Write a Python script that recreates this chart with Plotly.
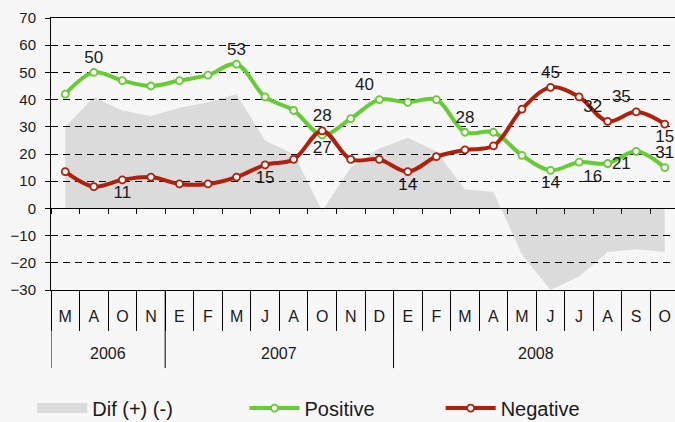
import plotly.graph_objects as go

# categories (month initials, Spanish) and their years
months = ["M", "A", "O", "N",
          "E", "F", "M", "J", "A", "O", "N", "D",
          "E", "F", "M", "A", "M", "J", "J", "A", "S", "O"]
years = ["2006"] * 4 + ["2007"] * 8 + ["2008"] * 10

# series values
positive = [42, 50, 47, 45, 47, 49, 53, 41, 36, 27, 33, 40,
            39, 40, 28, 28, 19.5, 14, 17, 16.5, 21, 15]
negative = [13.5, 8, 10.5, 11.5, 9, 9, 11.5, 16, 18, 28.5, 18, 18,
            13.5, 19, 21.5, 23, 36.5, 44.5, 41, 32, 35.5, 31]
dif = [30, 41, 36, 34, 37, 39, 42, 25, 20, -1, 15, 22,
       26, 21, 7, 6, -17, -30, -25, -16, -15, -16]

# data labels as printed on the chart
pos_labels = {1: "50", 6: "53", 9: "27", 11: "40", 14: "28", 17: "14", 19: "16", 20: "21", 21: "31"}
neg_labels = {2: "11", 7: "15", 9: "28", 12: "14", 17: "45", 19: "32", 20: "35", 21: "15"}
pos_where = {11: "top left", 9: "bottom center", 17: "bottom center", 19: "bottom left", 20: "bottom left"}
neg_where = {2: "bottom center", 7: "bottom center", 12: "bottom center", 19: "top left", 20: "top left", 21: "bottom center"}

keys = [y + "-" + str(i) for i, y in enumerate(years)]
n = len(keys)

GREEN = "#66CC33"
RED = "#B0200C"
BG = "#F7F7F7"
FONT = "Liberation Sans, Arial, sans-serif"
NB = "\u00a0"

pos_text = [pos_labels.get(i, "") for i in range(n)]
neg_text = [neg_labels.get(i, "") for i in range(n)]
pos_tp = [pos_where.get(i, "top center") for i in range(n)]
neg_tp = [neg_where.get(i, "top center") for i in range(n)]

difTrace = go.Scatter(
    x=keys, y=dif, mode="none", fill="tozeroy",
    fillcolor="rgba(0,0,0,0.11)", showlegend=False,
    hoverinfo="skip"
)

# legend swatch for the difference area (nothing drawn in the plot)
difLegend = go.Scatter(
    x=[keys[0]], y=[None], mode="lines", name="Dif (+) (-)" + NB * 12,
    line=dict(color="#DCDCDC", width=15), hoverinfo="skip"
)

posTrace = go.Scatter(
    x=keys, y=positive, mode="lines+markers+text", name="Positive" + NB * 11,
    line=dict(color=GREEN, width=4, shape="spline"),
    marker=dict(size=7, color="white", line=dict(color=GREEN, width=1.8)),
    text=pos_text, textposition=pos_tp,
    textfont=dict(size=17, color="#1a1a1a", family=FONT)
)

negTrace = go.Scatter(
    x=keys, y=negative, mode="lines+markers+text", name="Negative",
    line=dict(color=RED, width=4, shape="spline"),
    marker=dict(size=7, color="white", line=dict(color=RED, width=1.8)),
    text=neg_text, textposition=neg_tp,
    textfont=dict(size=17, color="#1a1a1a", family=FONT)
)

# invisible helper for the tick marks along the zero line
zeroTicks = go.Scatter(x=[0], y=[0], xaxis="x2", mode="markers",
                       marker=dict(opacity=0), showlegend=False, hoverinfo="skip")

# year group dividers and labels under the month row
starts = [i for i in range(n) if i == 0 or years[i] != years[i - 1]]
shapes = []
annotations = []
for s in starts:
    shapes.append(dict(type="line", xref="x", yref="paper", x0=s - 0.5, x1=s - 0.5,
                       y0=0, y1=-0.287, line=dict(color="black", width=1)))
for s in starts:
    grp = [i for i in range(n) if years[i] == years[s]]
    annotations.append(dict(xref="x", yref="paper", x=(grp[0] + grp[-1]) / 2.0, y=-0.235,
                            text=years[s], showarrow=False, yanchor="middle",
                            font=dict(size=16, color="#1a1a1a", family=FONT)))

layout = go.Layout(
    width=675, height=422,
    margin=dict(l=51, r=0, t=18, b=132, autoexpand=False),
    paper_bgcolor=BG, plot_bgcolor=BG,
    font=dict(family=FONT, color="#1a1a1a"),
    showlegend=True,
    legend=dict(orientation="h", x=-0.03, y=-0.434, yanchor="middle", xanchor="left",
                itemwidth=50,
                font=dict(size=20, family=FONT, color="#1a1a1a"),
                bgcolor="rgba(0,0,0,0)"),
    xaxis=dict(type="category", categoryorder="array", categoryarray=keys,
               tickmode="array", tickvals=keys, ticktext=months,
               tickson="boundaries", ticks="outside", ticklen=40, tickcolor="black",
               ticklabelstandoff=12,
               tickfont=dict(size=16, family=FONT, color="#1a1a1a"),
               range=[-0.5, 21.36], showgrid=False,
               showline=True, linecolor="black", linewidth=1, mirror=True,
               zeroline=False),
    xaxis2=dict(overlaying="x", anchor="free", position=0.3,
                range=[-0.5, 21.36], tickmode="linear", tick0=-0.5, dtick=1,
                ticks="outside", ticklen=5, tickcolor="black",
                showticklabels=False, showgrid=False, showline=False, zeroline=False),
    yaxis=dict(range=[-30, 70], tickmode="linear", tick0=-30, dtick=10,
               showgrid=True, gridcolor="black", gridwidth=1, griddash="7px,5px",
               zeroline=True, zerolinecolor="black", zerolinewidth=1,
               showline=True, linecolor="black", linewidth=1,
               ticks="outside", ticklen=5, tickcolor="black",
               ticklabelstandoff=6,
               tickfont=dict(size=15, family=FONT, color="#1a1a1a")),
    shapes=shapes,
    annotations=annotations
)

fig = go.Figure(data=[difTrace, difLegend, posTrace, negTrace, zeroTicks], layout=layout)
fig.write_html("out.html", config={"displayModeBar": False},
               post_script="document.body.style.margin='0';")
